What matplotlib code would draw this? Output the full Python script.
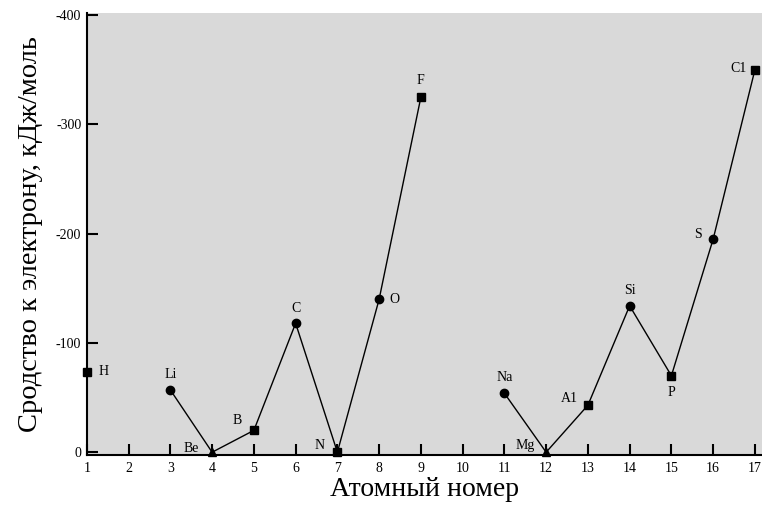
import numpy as np
import matplotlib
matplotlib.use("Agg")
import matplotlib.pyplot as plt

# atomic number, electron affinity (kJ/mol), element symbol
z = [1, 2, 3, 4, 5, 6, 7, 8, 9, 10, 11, 12, 13, 14, 15, 16, 17]
affinity = [-73, np.nan, -57, 0, -20, -118, 0, -140, -325, np.nan,
            -54, 0, -43, -134, -70, -195, -350]
symbols = ["H", "", "Li", "Be", "B", "C", "N", "O", "F", "",
           "Na", "Mg", "A1", "Si", "P", "S", "C1"]
# label offsets in points (dx, dy)
offsets = [(12, 1), (0, 0), (0, 11), (-15, 3), (-12, 7), (0, 11), (-13, 5),
           (11, 0), (0, 12), (0, 0), (0, 11), (-15, 5), (-13, 5), (0, 11),
           (0, -12), (-11, 3), (-12, 1)]
markers = ["s", "", "o", "^", "s", "o", "s", "o", "s", "",
           "o", "^", "s", "o", "s", "o", "s"]

plt.rcParams["font.family"] = ["Liberation Serif", "DejaVu Serif"]
plt.rcParams["axes.unicode_minus"] = False

fig = plt.figure(figsize=(7.62, 5.08), dpi=100)
ax = fig.add_axes([0.114, 0.104, 0.886, 0.87])
ax.set_facecolor("#d9d9d9")

ax.plot(z, affinity, color="black", lw=1)
for xi, yi, m, s, off in zip(z, affinity, markers, symbols, offsets):
    if np.isnan(yi):
        continue
    ax.plot(xi, yi, marker=m, color="black", ms=6, clip_on=False)
    ax.annotate(s, (xi, yi), xytext=off, textcoords="offset points",
                ha="center", va="center", fontsize=10)

ax.set_xlim(1, 17.17)
ax.set_ylim(2.7, -401.8)
ax.set_xticks(z)
ax.set_yticks([0, -100, -200, -300, -400])
ax.tick_params(direction="in", length=8, width=1.5, labelsize=10)
ax.tick_params(axis="x", pad=5)
ax.tick_params(axis="y", pad=4)
for side in ["top", "right"]:
    ax.spines[side].set_visible(False)
for side in ["left", "bottom"]:
    ax.spines[side].set_linewidth(1.5)

ax.set_xlabel("Атомный номер", fontsize=20, labelpad=1)
ax.set_ylabel("Сродство к электрону, кДж/моль", fontsize=20.5, labelpad=9)

fig.savefig("out.png", dpi=100)
